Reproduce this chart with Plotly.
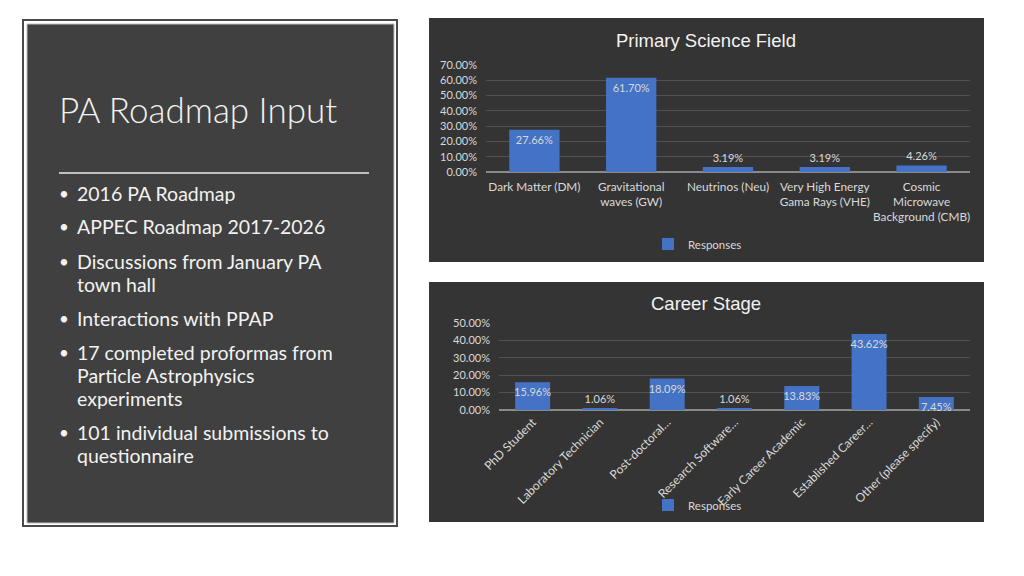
import plotly.graph_objects as go

# ---------------------------------------------------------------------------
# data
# ---------------------------------------------------------------------------
field_categories = [
    'Dark Matter (DM)',
    'Gravitational<br>waves (GW)',
    'Neutrinos (Neu)',
    'Very High Energy<br>Gama Rays (VHE)',
    'Cosmic<br>Microwave<br>Background (CMB)',
]
field_values = [0.2766, 0.6170, 0.0319, 0.0319, 0.0426]
field_label_pos = ['inside', 'inside', 'outside', 'outside', 'outside']

career_categories = [
    'PhD Student',
    'Laboratory Technician',
    'Post-doctoral…',
    'Research Software…',
    'Early Career Academic',
    'Established Career…',
    'Other (please specify)',
]
career_values = [0.1596, 0.0106, 0.1809, 0.0106, 0.1383, 0.4362, 0.0745]
career_label_pos = ['inside', 'outside', 'inside', 'outside', 'inside', 'inside', 'inside']

panel_title = 'PA Roadmap Input'
bullets = [
    ['2016 PA Roadmap'],
    ['APPEC Roadmap 2017-2026'],
    ['Discussions from January PA', 'town hall'],
    ['Interactions with PPAP'],
    ['17 completed proformas from', 'Particle Astrophysics', 'experiments'],
    ['101 individual submissions to', 'questionnaire'],
]

W, H = 1024, 576
OFF = 8  # page body margin around the plot div
BAR_BLUE = '#4472c4'
LABEL_GREY = '#d9d9d9'
CHART_BG = '#343434'
FONT = 'Lato, "Open Sans", sans-serif'


def px(x):
    return (x - OFF) / W


def py(y):
    return 1 - (y - OFF) / H


fig = go.Figure()

fig.add_trace(go.Bar(
    x=field_categories, y=field_values,
    marker=dict(color=BAR_BLUE, line=dict(width=0)),
    text=[f'{v:.2%}' for v in field_values],
    textposition=field_label_pos,
    insidetextanchor='end', textangle=0,
    textfont=dict(family=FONT, size=11, color=LABEL_GREY),
    cliponaxis=False,
    name='Responses', legend='legend',
    xaxis='x', yaxis='y',
))

fig.add_trace(go.Bar(
    x=career_categories, y=career_values,
    marker=dict(color=BAR_BLUE, line=dict(width=0)),
    text=[f'{v:.2%}' for v in career_values],
    textposition=career_label_pos,
    insidetextanchor='end', textangle=0,
    textfont=dict(family=FONT, size=11, color=LABEL_GREY),
    cliponaxis=False,
    name='Responses', legend='legend2',
    xaxis='x2', yaxis='y2',
))

# chart boxes and left text panel
shapes = [
    dict(type='rect', xref='paper', yref='paper', layer='below',
         x0=px(429), x1=px(984), y0=py(262), y1=py(18),
         fillcolor=CHART_BG, line=dict(width=0)),
    dict(type='rect', xref='paper', yref='paper', layer='below',
         x0=px(429), x1=px(984), y0=py(522), y1=py(282),
         fillcolor=CHART_BG, line=dict(width=0)),
    dict(type='rect', xref='paper', yref='paper', layer='below',
         x0=px(23), x1=px(397), y0=py(526), y1=py(20),
         fillcolor='white', line=dict(color='#4a4a4a', width=2)),
    dict(type='rect', xref='paper', yref='paper', layer='below',
         x0=px(27), x1=px(394), y0=py(523), y1=py(24),
         fillcolor='#404040', line=dict(color='#bfbfbf', width=1)),
    dict(type='line', xref='paper', yref='paper',
         x0=px(59), x1=px(369), y0=py(173), y1=py(173),
         line=dict(color='#bfbfbf', width=2)),
]

annotations = [
    dict(text='Primary Science Field', x=px(706), y=py(40),
         font=dict(family='Arial, "Liberation Sans", sans-serif', size=18.5, color='#f2f2f2')),
    dict(text='Career Stage', x=px(706), y=py(303),
         font=dict(family='Arial, "Liberation Sans", sans-serif', size=18.5, color='#f2f2f2')),
    dict(text=panel_title, x=px(57), y=py(109), xanchor='left',
         font=dict(family=FONT, size=35, color='#f2f2f2', weight=300)),
]

line_y = 193
for item in bullets:
    annotations.append(dict(text='•', x=px(57), y=py(line_y), xanchor='left',
                            font=dict(family=FONT, size=17, color='#f2f2f2')))
    for k, line in enumerate(item):
        annotations.append(dict(text=line, x=px(75), y=py(line_y + 23 * k), xanchor='left',
                                font=dict(family=FONT, size=19.5, color='#f2f2f2')))
    line_y += 23 * (len(item) - 1) + 34

for a in annotations:
    a.update(xref='paper', yref='paper', showarrow=False, yanchor='middle')
    a.setdefault('xanchor', 'center')

y_axis_style = dict(
    tickformat='.2%', dtick=0.1, showgrid=True, gridcolor='#525252', gridwidth=1,
    zeroline=True, zerolinecolor='#8a8a8a', zerolinewidth=1.5, showline=False,
    ticks='', ticklabelstandoff=8,
    tickfont=dict(family=FONT, size=11, color=LABEL_GREY),
)
x_axis_style = dict(
    showgrid=False, showline=False, ticks='', zeroline=False,
)

legend_style = dict(
    orientation='h', xanchor='left', yanchor='middle', bgcolor='rgba(0,0,0,0)',
    font=dict(family=FONT, size=11.5, color=LABEL_GREY), itemwidth=30,
)

fig.update_layout(
    width=W, height=H,
    margin=dict(l=0, r=0, t=0, b=0, autoexpand=False),
    paper_bgcolor='white', plot_bgcolor='rgba(0,0,0,0)',
    bargap=0.48,
    showlegend=True,
    uniformtext=dict(minsize=10, mode='show'),
    xaxis=dict(domain=[px(486), px(970)], anchor='y', tickangle=0,
               ticklabelstandoff=6,
               tickfont=dict(family=FONT, size=11.8, color=LABEL_GREY), **x_axis_style),
    yaxis=dict(domain=[py(172), py(65)], anchor='x', range=[0, 0.7001], **y_axis_style),
    xaxis2=dict(domain=[px(499), px(970)], anchor='y2', tickangle=-45,
                ticklabelstandoff=2,
                tickfont=dict(family=FONT, size=12, color=LABEL_GREY), **x_axis_style),
    yaxis2=dict(domain=[py(410), py(323)], anchor='x2', range=[0, 0.5001], **y_axis_style),
    legend=dict(x=px(648), y=py(244), **legend_style),
    legend2=dict(x=px(648), y=py(505), **legend_style),
    shapes=shapes,
    annotations=annotations,
)

fig.write_html('out.html')
